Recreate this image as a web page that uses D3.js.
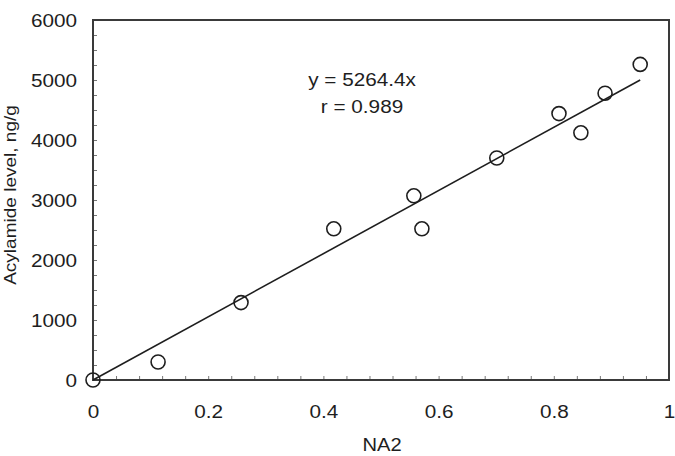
<!DOCTYPE html>
<html>
<head>
<meta charset="utf-8">
<script src="https://cdn.jsdelivr.net/npm/d3@7"></script>
<style>
  body { margin: 0; background: #fff; }
  svg { display: block; font-family: "Liberation Sans", Arial, sans-serif; }
</style>
</head>
<body>
<svg id="chart"></svg>
<script>
// data
const na2 = [0, 0.113, 0.257, 0.418, 0.557, 0.571, 0.701, 0.809, 0.847, 0.889, 0.95];
const acrylamide = [0, 300, 1290, 2520, 3070, 2520, 3700, 4440, 4120, 4780, 5260];
const slope = 5264.4;
const fitRange = [0, 0.95];
const xTicks = [0, 0.2, 0.4, 0.6, 0.8, 1];
const yTicks = [0, 1000, 2000, 3000, 4000, 5000, 6000];

const width = 675;
const height = 456;
const marginTop = 20;
const marginRight = 6;
const marginBottom = 76;
const marginLeft = 93;
const stretch = 1.12; // text looks a bit wide in the original
const ink = "#1e1e1e";

const x = d3.scaleLinear().domain([0, 1]).range([marginLeft, width - marginRight]);
const y = d3.scaleLinear().domain([0, 6000]).range([height - marginBottom, marginTop]);

const svg = d3.select("#chart")
  .attr("width", width)
  .attr("height", height)
  .attr("viewBox", [0, 0, width, height]);

// minor ticks, pointing in
svg.append("g")
  .attr("transform", `translate(0,${y(0)})`)
  .call(d3.axisBottom(x).tickValues(d3.range(0, 1.001, 0.04)).tickSize(-4).tickFormat(""))
  .call((g) => g.select(".domain").remove())
  .call((g) => g.selectAll(".tick line").attr("stroke", "#777"));

svg.append("g")
  .attr("transform", `translate(${x(0)},0)`)
  .call(d3.axisLeft(y).tickValues(d3.range(0, 6001, 250)).tickSize(-4).tickFormat(""))
  .call((g) => g.select(".domain").remove())
  .call((g) => g.selectAll(".tick line").attr("stroke", "#777"));

// tick labels
svg.append("g")
  .attr("transform", `translate(0,${y(0)})`)
  .call(d3.axisBottom(x).tickValues(xTicks).tickSize(0).tickFormat((d) => d))
  .call((g) => g.select(".domain").remove())
  .call((g) => g.selectAll(".tick text")
    .attr("y", 38)
    .attr("dy", null)
    .attr("fill", ink)
    .attr("font-size", 18.5)
    .attr("font-family", "Liberation Sans, Arial, sans-serif")
    .attr("transform", `scale(${stretch},1)`));

svg.append("g")
  .attr("transform", `translate(${x(0)},0)`)
  .call(d3.axisLeft(y).tickValues(yTicks).tickSize(0).tickFormat(d3.format("d")))
  .call((g) => g.select(".domain").remove())
  .call((g) => g.selectAll(".tick text")
    .attr("x", -16 / stretch)
    .attr("dy", "0.36em")
    .attr("fill", ink)
    .attr("font-size", 18.5)
    .attr("font-family", "Liberation Sans, Arial, sans-serif")
    .attr("transform", `scale(${stretch},1)`));

// frame
svg.append("rect")
  .attr("x", x(0))
  .attr("y", y(6000))
  .attr("width", x(1) - x(0))
  .attr("height", y(0) - y(6000))
  .attr("fill", "none")
  .attr("stroke", "#3a3a3a")
  .attr("stroke-width", 2);

// fitted line
svg.append("line")
  .attr("x1", x(fitRange[0]))
  .attr("y1", y(slope * fitRange[0]))
  .attr("x2", x(fitRange[1]))
  .attr("y2", y(slope * fitRange[1]))
  .attr("stroke", ink)
  .attr("stroke-width", 1.6);

// points
svg.append("g")
  .selectAll()
  .data(d3.zip(na2, acrylamide))
  .join("circle")
  .attr("cx", (d) => x(d[0]))
  .attr("cy", (d) => y(d[1]))
  .attr("r", 7)
  .attr("fill", "none")
  .attr("stroke", ink)
  .attr("stroke-width", 1.6);

// equation
const eq = svg.append("g")
  .attr("fill", ink)
  .attr("font-size", 18.5)
  .attr("text-anchor", "middle");
eq.append("text")
  .attr("transform", `translate(362,86) scale(${stretch},1)`)
  .text("y = 5264.4x");
eq.append("text")
  .attr("transform", `translate(362,113) scale(${stretch},1)`)
  .text("r = 0.989");

// axis titles
svg.append("text")
  .attr("transform", `translate(382,451) scale(${stretch},1)`)
  .attr("text-anchor", "middle")
  .attr("font-size", 18)
  .attr("fill", ink)
  .text("NA2");

svg.append("text")
  .attr("transform", `translate(16,195) rotate(-90) scale(${stretch},1)`)
  .attr("text-anchor", "middle")
  .attr("font-size", 17)
  .attr("fill", ink)
  .text("Acylamide level, ng/g");
</script>
</body>
</html>
